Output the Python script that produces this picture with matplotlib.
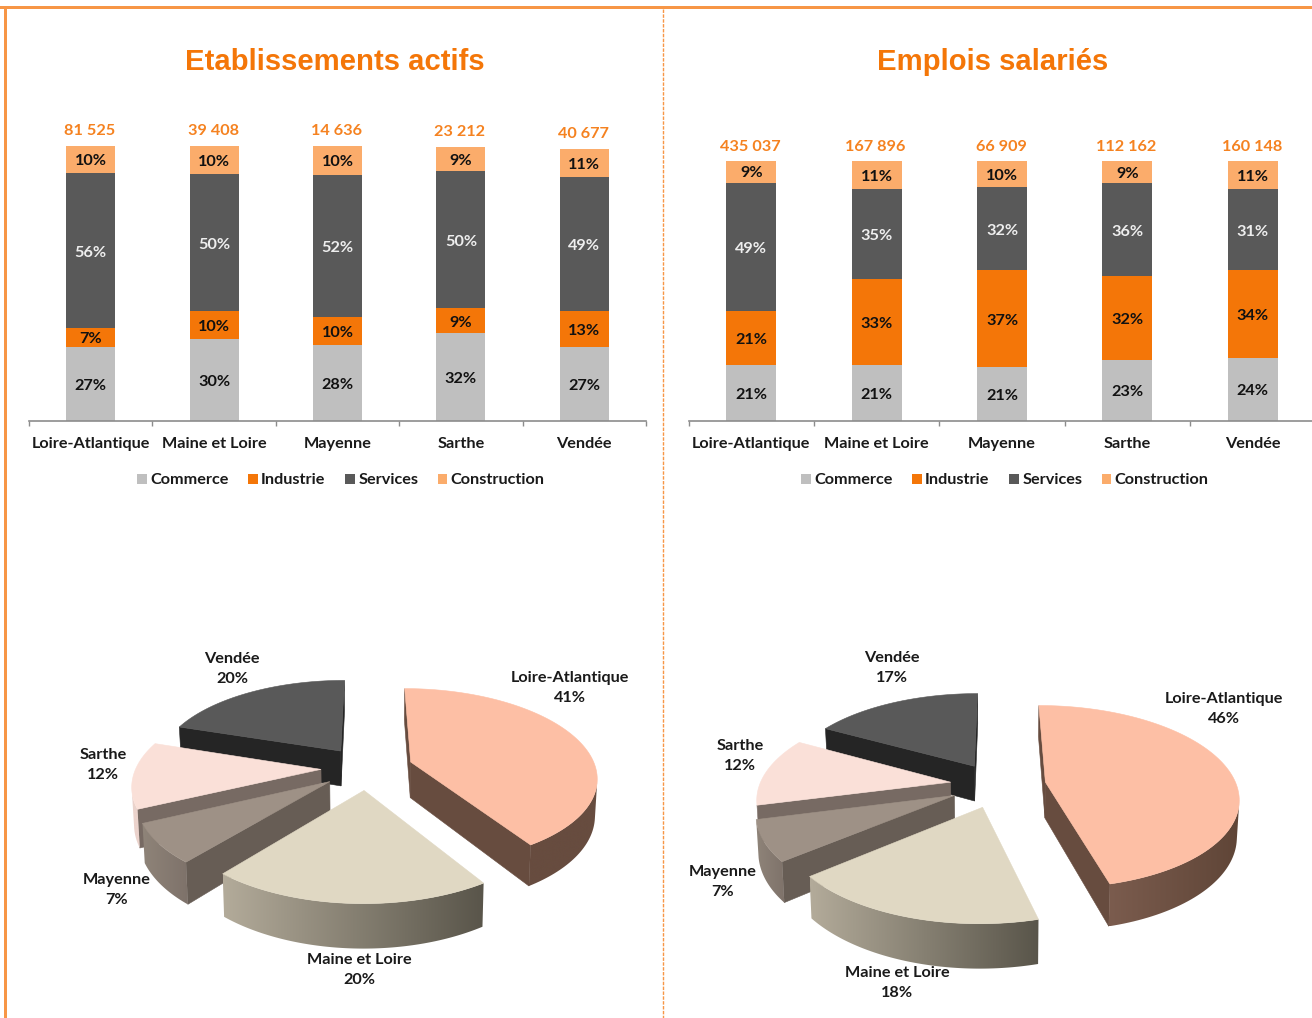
import numpy as np
import matplotlib
matplotlib.use("Agg")
import matplotlib.pyplot as plt
from matplotlib.patches import Rectangle, Polygon
from matplotlib.colors import LinearSegmentedColormap

W, H = 1312, 1018
regions = ["Loire-Atlantique", "Maine et Loire", "Mayenne", "Sarthe", "Vendée"]
series_names = ["Commerce", "Industrie", "Services", "Construction"]

# Etablissements actifs
etab_commerce = [26.7, 29.6, 27.6, 31.8, 26.9]
etab_industrie = [7.0, 10.3, 10.2, 9.1, 13.1]
etab_services = [56.2, 49.6, 51.6, 49.7, 48.4]
etab_construction = [10.1, 10.5, 10.5, 8.7, 10.5]
etab_labels = [["27%", "30%", "28%", "32%", "27%"], ["7%", "10%", "10%", "9%", "13%"],
               ["56%", "50%", "52%", "50%", "49%"], ["10%", "10%", "10%", "9%", "11%"]]
etab_totals = ["81 525", "39 408", "14 636", "23 212", "40 677"]
etab_pie = [41, 20, 7, 12, 20]

# Emplois salariés
empl_commerce = [21.2, 21.2, 20.5, 23.1, 24.2]
empl_industrie = [20.9, 33.2, 37.2, 32.4, 33.5]
empl_services = [49.4, 34.6, 32.2, 35.8, 31.3]
empl_construction = [8.6, 11.0, 10.1, 8.7, 11.0]
empl_labels = [["21%", "21%", "21%", "23%", "24%"], ["21%", "33%", "37%", "32%", "34%"],
               ["49%", "35%", "32%", "36%", "31%"], ["9%", "11%", "10%", "9%", "11%"]]
empl_totals = ["435 037", "167 896", "66 909", "112 162", "160 148"]
empl_pie = [46, 18, 7, 12, 17]

BAR_COLORS = ["#BFBFBF", "#F47608", "#595959", "#FBAC6B"]
LABEL_COLORS = ["#111111", "#111111", "#EEEEEE", "#111111"]
ORANGE = "#F79646"
TITLE_C = "#F47608"
TOTAL_C = "#F58220"
FONT = "Lato"
FS = 11.7

fig = plt.figure(figsize=(W / 100, H / 100), dpi=100)
bg = fig.add_axes([0, 0, 1, 1])
bg.axis("off")

# frame
bg.add_patch(Rectangle((0, 6), W, 3, fc=ORANGE, ec="none"))
bg.add_patch(Rectangle((4, 6), 3, H, fc=ORANGE, ec="none"))
bg.plot([663, 663], [9, H], color=ORANGE, lw=1, ls=(0, (2.5, 1)))

bg.text(335, 61.5, "Etablissements actifs", ha="center", va="center", color=TITLE_C,
        family="Liberation Sans", weight="bold", fontsize=21.1)
bg.text(993, 61.5, "Emplois salariés", ha="center", va="center", color=TITLE_C,
        family="Liberation Sans", weight="bold", fontsize=21.1)


def bars(left, step, base, px100, barw, stacks, labels, totals, total_gap, legend_x):
    ax = fig.add_axes([left / W, 1 - base / H, 5 * step / W, px100 / H])
    ax.set_xlim(0, 5)
    ax.set_ylim(0, 100)
    ax.patch.set_alpha(0)
    x = np.arange(5) + 0.5
    bottom = np.zeros(5)
    handles = []
    for i, vals in enumerate(stacks):
        v = np.array(vals)
        ax.bar(x, v, width=barw / step, bottom=bottom, color=BAR_COLORS[i], lw=0, label=series_names[i])
        handles.append(Rectangle((0, 0), 1, 1, fc=BAR_COLORS[i], ec="none"))
        for j in range(5):
            ax.annotate(labels[i][j], (x[j], bottom[j] + v[j] / 2), xytext=(0, -2), textcoords="offset pixels",
                        ha="center", va="center", color=LABEL_COLORS[i], family=FONT, weight="bold", fontsize=FS)
        bottom = bottom + v
    for j in range(5):
        ax.annotate(totals[j], (x[j], bottom[j]), xytext=(-1, total_gap), textcoords="offset pixels",
                    ha="center", va="center", color=TOTAL_C, family=FONT, weight="bold", fontsize=FS)
    for s in ["top", "left", "right"]:
        ax.spines[s].set_visible(False)
    ax.spines["bottom"].set_color("#8C8C8C")
    ax.spines["bottom"].set_linewidth(1.2)
    ax.set_yticks([])
    ax.set_xticks(np.arange(6))
    ax.set_xticklabels([])
    ax.tick_params(axis="x", which="major", length=3.6, width=1, color="#8C8C8C")
    ax.set_xticks(x, minor=True)
    ax.set_xticklabels(regions, minor=True, family=FONT, weight="bold", fontsize=FS, color="#1A1A1A")
    ax.tick_params(axis="x", which="minor", length=0, pad=12.2)
    fig.legend(handles, series_names, loc="center", bbox_to_anchor=(legend_x / W, 1 - 480.5 / H), ncol=4,
               frameon=False, handlelength=0.6, handleheight=0.6, handletextpad=0.2, columnspacing=1.2,
               prop={"family": FONT, "weight": "bold", "size": FS}, labelcolor="#1A1A1A")


bars(29, 123.4, 420.5, 275, 49,
     [etab_commerce, etab_industrie, etab_services, etab_construction],
     etab_labels, etab_totals, 15, 341)
bars(688.5, 125.4, 420.5, 260, 50,
     [empl_commerce, empl_industrie, empl_services, empl_construction],
     empl_labels, empl_totals, 13.5, 1005)

# pies: top colour, cut-face colour, rim colour left, rim colour right
SLICE_STYLE = [
    ("#FDBFA5", "#674C3F", "#674C3F", "#674C3F"),
    ("#E0D8C3", "#5A554A", "#B3AB9A", "#59554A"),
    ("#9E9186", "#675D55", "#8F8479", "#7E726A"),
    ("#FAE0D8", "#776A63", "#EBD3CC", "#EBD3CC"),
    ("#595959", "#252525", "#3A3A3A", "#3A3A3A"),
]


def pie3d(values, cx, cy, R, e, k=0.47, p=0.16, depth=36, zs=0.99, la_rim=None):
    vals = np.array(values, float)
    ang = np.cumsum(np.r_[0, vals]) / vals.sum() * 360

    def proj(X, Y, z=False):
        s = 1 / (1 + p * Y / R)
        sx = X * s
        sy = cy - k * Y * s
        if z:
            sy = sy + depth * s
            sx = sx * zs
        return cx + sx, sy

    def face_quad(x0, y0, x1, y1):
        ax0, ay0 = proj(x0, y0)
        ax1, ay1 = proj(x1, y1)
        bx1, by1 = proj(x1, y1, True)
        bx0, by0 = proj(x0, y0, True)
        xs = [ax0, ax1, bx1, bx0]
        ys = [ay0, ay1, by1, by0]
        area = sum(xs[n] * ys[(n + 1) % 4] - xs[(n + 1) % 4] * ys[n] for n in range(4))
        return xs, ys, area < 0

    slices = []
    for i in range(len(vals)):
        mid = np.radians((ang[i] + ang[i + 1]) / 2)
        slices.append((e * np.cos(mid), i, e * np.sin(mid)))
    for oy, i, ox in sorted(slices, reverse=True):
        top, cut, rim_l, rim_r = SLICE_STYLE[i]
        if i == 0 and la_rim:
            cut, rim_l, rim_r = la_rim
        th = np.radians(np.linspace(ang[i], ang[i + 1], 120))
        X = ox + R * np.sin(th)
        Y = oy + R * np.cos(th)

        for q in ((ox, oy, X[0], Y[0]), (X[-1], Y[-1], ox, oy)):
            xs, ys, vis = face_quad(*q)
            if vis:
                bg.fill(xs, ys, fc=cut, ec=cut, lw=0.4, zorder=3)

        vis_idx = [n for n in range(len(X) - 1) if face_quad(X[n], Y[n], X[n + 1], Y[n + 1])[2]]
        if vis_idx:
            run = np.arange(vis_idx[0], vis_idx[-1] + 2)
            tx, ty = proj(X[run], Y[run])
            bx, by = proj(X[run], Y[run], True)
            px = np.r_[tx, bx[::-1]]
            py = np.r_[ty, by[::-1]]
            cmap = LinearSegmentedColormap.from_list("rim", [rim_l, rim_r])
            im = bg.imshow(np.linspace(0, 1, 256)[None, :], cmap=cmap, aspect="auto",
                           extent=(px.min(), px.max(), py.max(), py.min()), zorder=3, interpolation="bilinear")
            poly = Polygon(np.c_[px, py], closed=True, transform=bg.transData, fc="none", ec="none")
            im.set_clip_path(poly)
        tx, ty = proj(np.r_[ox, X], np.r_[oy, Y])
        bg.fill(tx, ty, fc=top, ec=top, lw=0.4, zorder=3)


pie3d(etab_pie, 367, 768, 185, 46)
pie3d(empl_pie, 998, 785, 191, 48, la_rim=("#674C3F", "#7B5C4E", "#5F4537"))

etab_pos = [(570, 688), (359, 970), (117, 890), (103, 765), (232, 669)]
empl_pos = [(1224, 709), (897, 983), (723, 882), (740, 756), (892, 668)]
for vals, pos in ((etab_pie, etab_pos), (empl_pie, empl_pos)):
    for name, v, (x, y) in zip(regions, vals, pos):
        bg.text(x, y, f"{name}\n{v}%", ha="center", va="center", family=FONT, weight="bold",
                fontsize=FS, color="#1A1A1A", linespacing=1.55, zorder=5)

bg.set_xlim(0, W)
bg.set_ylim(H, 0)
bg.set_aspect("auto")
fig.savefig("out.png", dpi=100)
